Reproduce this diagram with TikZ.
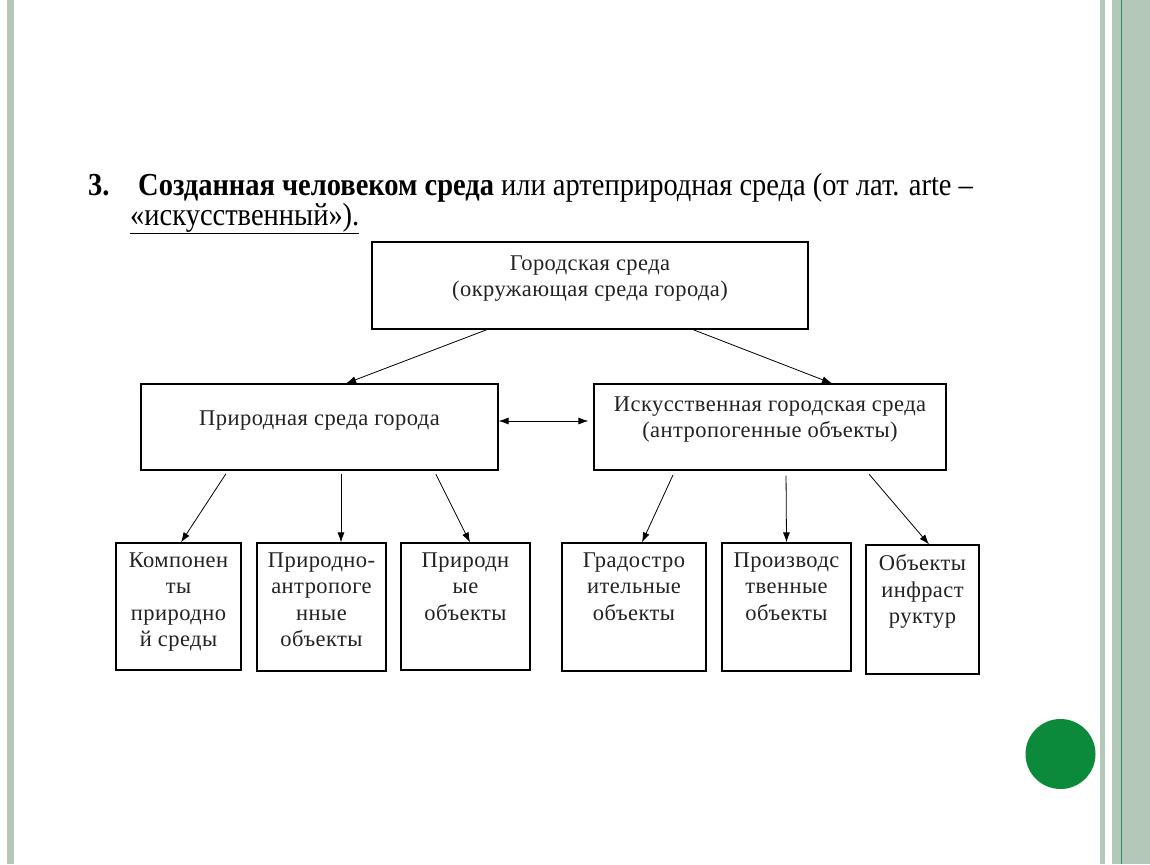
\documentclass[tikz,border=0pt]{standalone}
\usepackage{fontspec}
\setmainfont{Liberation Serif}
\newfontfamily\headfont[FakeStretch=0.89]{Liberation Serif}
\newfontfamily\boxfont[LetterSpace=2]{Liberation Serif}
\usetikzlibrary{arrows.meta,calc,positioning}
\definecolor{stripe}{HTML}{B3C8B8}
\definecolor{darkstripe}{HTML}{2E8B57}
\definecolor{dotgreen}{HTML}{0B8A3C}
\definecolor{ink}{HTML}{222222}

\begin{document}
\begin{tikzpicture}[x=1pt, y=-1pt, >={Latex[length=10pt,width=7pt]},
    box/.style={draw, line width=1.2pt, inner sep=0pt},
    txt/.style={font=\boxfont\fontsize{22.5}{26.5}\selectfont, text=ink, align=center, inner sep=0pt},
    head/.style={anchor=base west, inner sep=0pt, font=\headfont\fontsize{32}{32}\selectfont}]
    \useasboundingbox (0,0) rectangle (1150,864);

    % slide frame
    \fill[stripe] (7,0) rectangle (14,864);
    \fill[stripe] (1100,0) rectangle (1105,864);
    \fill[stripe] (1112,0) rectangle (1150,864);
    \draw[darkstripe, line width=1pt] (1121.5,0) -- (1121.5,864);
    \fill[dotgreen] (1060.5,754) circle (35);

    % heading
    \node[head] (num) at (88,195) {\bfseries 3.};
    \node[head] (line1) at (138,195) {\textbf{Созданная человеком среда} или артеприродная среда (от лат. arte –};
    \node[head] (line2) at (130,225) {\underline{«искусственный»).}};

    % boxes
    \node[box, minimum width=436, minimum height=87] (town) at (590,285.5) {};
    \node[box, minimum width=357, minimum height=86] (natural) at (319.5,427) {};
    \node[box, minimum width=352, minimum height=86] (artificial) at (770,427) {};

    \node[box, minimum width=125, minimum height=127] (comp) at (178.5,606.5) {};
    \node[box, minimum width=129, minimum height=128] (natanthr) at (321.5,607) {};
    \node[box, minimum width=129, minimum height=127] (natobj) at (465.5,606.5) {};
    \node[box, minimum width=144, minimum height=128] (build) at (634,607) {};
    \node[box, minimum width=129, minimum height=128] (prod) at (786.5,607) {};
    \node[box, minimum width=113, minimum height=129] (infra) at (922.5,609.5) {};

    % texts
    \node[txt, below=14pt of town.north] {Городская среда\\(окружающая среда города)};
    \node[txt, below=27pt of natural.north] {Природная среда города};
    \node[txt, below=13pt of artificial.north] {Искусственная городская среда\\(антропогенные объекты)};

    \node[txt, below=10pt of comp.north] {Компонен\\ты\\природно\\й среды};
    \node[txt, below=10pt of natanthr.north] {Природно-\\антропоге\\нные\\объекты};
    \node[txt, below=10pt of natobj.north] {Природн\\ые\\объекты};
    \node[txt, below=10pt of build.north] {Градостро\\ительные\\объекты};
    \node[txt, below=10pt of prod.north] {Производс\\твенные\\объекты};
    \node[txt, below=10pt of infra.north] {Объекты\\инфраст\\руктур};

    % arrows
    \draw[->, thick] ([xshift=-103pt]town.south) -- ([xshift=26.5pt]natural.north);
    \draw[->, thick] ([xshift=103pt]town.south) -- ([xshift=62pt]artificial.north);
    \draw[<->, thick, shorten >=5pt] ([yshift=6pt]natural.east) -- ([yshift=6pt]artificial.west);

    \draw[->, thick, shorten <=4pt] ([xshift=-91.5pt]natural.south) -- ([xshift=2.5pt]comp.north);
    \draw[->, thick, shorten <=3pt] ([xshift=21.5pt]natural.south) -- ([xshift=19.5pt]natanthr.north);
    \draw[->, thick, shorten <=4pt] ([xshift=114.5pt]natural.south) -- ([xshift=4.5pt]natobj.north);

    \draw[->, thick, shorten <=5pt] ([xshift=-95pt]artificial.south) -- ([xshift=8pt]build.north);
    \draw[->, thick, shorten <=5pt] ([xshift=16pt]artificial.south) -- (prod.north);
    \draw[->, thick, shorten <=5pt] ([xshift=96pt]artificial.south) -- ([xshift=6.5pt]infra.north);
\end{tikzpicture}
\end{document}
